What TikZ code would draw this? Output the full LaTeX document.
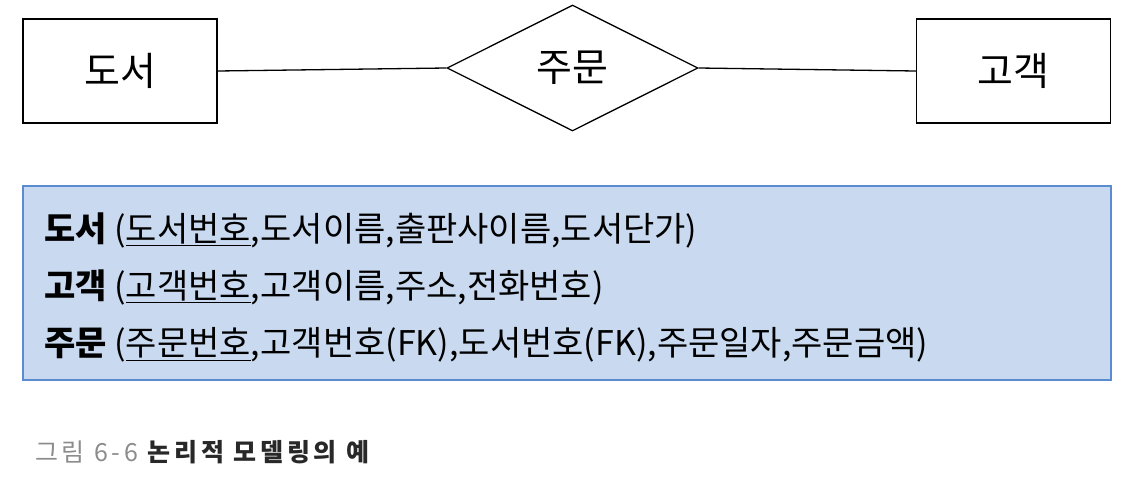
\documentclass[tikz,border=0pt]{standalone}
\usepackage{fontspec}
\newfontfamily\kr{Noto Sans CJK KR}
\newfontfamily\krcap{Noto Sans CJK KR}[LetterSpace=15]
\usetikzlibrary{shapes.geometric}
\definecolor{boxfill}{RGB}{200,217,240}
\definecolor{boxedge}{RGB}{91,139,208}
\definecolor{capgray}{RGB}{140,140,140}
\definecolor{capdark}{RGB}{40,40,40}
\tikzset{
  entity/.style={draw=black, line width=1.3pt, minimum width=194pt, minimum height=104pt, inner sep=0pt, font=\kr\fontsize{39}{44}\selectfont},
  rel/.style={draw=black, line width=1.3pt, diamond, minimum width=251pt, minimum height=126pt, inner sep=0pt, aspect=2, font=\kr\fontsize{39}{44}\selectfont},
  conn/.style={draw=black, line width=1.3pt},
  schema/.style={anchor=west, inner sep=0pt, font=\kr\fontsize{34}{40}\selectfont},
}
\begin{document}
\begin{tikzpicture}[x=1pt,y=-1pt]
\useasboundingbox (0,0) rectangle (1140,477);
\node[entity] (book) at (120,71) {도서};
\node[rel] (order) at (572.5,68) {주문};
\node[entity] (cust) at (1013.5,71) {고객};
\draw[conn] (book.east) -- (order.west);
\draw[conn] (order.east) -- (cust.west);
\node[draw=boxedge, fill=boxfill, line width=1.5pt, minimum width=1088pt, minimum height=194pt, inner sep=0pt] (schemabox) at (567,283) {};
\node[schema] (l1) at (44,230) {\textbf{도서} (\underline{도서번호},도서이름,출판사이름,도서단가)};
\node[schema] (l2) at (44,287) {\textbf{고객} (\underline{고객번호},고객이름,주소,전화번호)};
\node[schema] (l3) at (44,345) {\textbf{주문} (\underline{주문번호},고객번호(FK),도서번호(FK),주문일자,주문금액)};
\node[anchor=west, inner sep=0pt, font=\krcap\fontsize{25}{29}\selectfont] (cap) at (35,452) {\textcolor{capgray}{그림 6-6} \textcolor{capdark}{\textbf{논리적 모델링의 예}}};
\end{tikzpicture}
\end{document}
